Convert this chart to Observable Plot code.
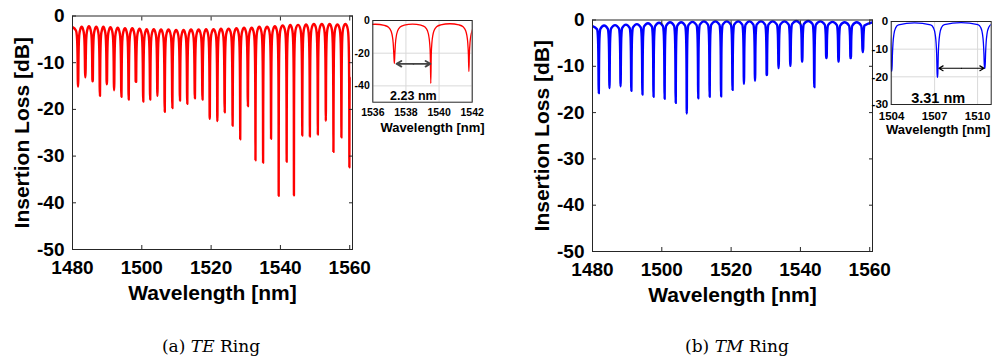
<!DOCTYPE html>
<html><head><meta charset="utf-8">
<script src="https://cdn.jsdelivr.net/npm/d3@7"></script>
<script src="https://cdn.jsdelivr.net/npm/@observablehq/plot@0.6"></script>
<style>
body{margin:0;background:#fff;}
#root{position:relative;width:998px;height:361px;overflow:hidden;background:#fff;}
.p{position:absolute;top:0;}
.p svg{overflow:visible;}
.cap{position:absolute;top:336px;font-family:"DejaVu Serif","Liberation Serif",serif;font-size:17px;color:#000;transform:translateX(-50%);white-space:nowrap;}
</style></head><body><div id="root">
<div class="p" id="teMain" style="left:0px"></div>
<div class="p" id="tmMain" style="left:520px"></div>
<div class="p" id="teInset" style="left:340px"></div>
<div class="p" id="tmInset" style="left:858px"></div>
<div class="cap" style="left:211px">(a) <i>TE</i> Ring</div>
<div class="cap" style="left:737px">(b) <i>TM</i> Ring</div>
</div>
<script>
// ---------- DATA ----------
// TE ring: resonance wavelengths [nm] and dip depths [dB]
const teDipWl = [1481.6, 1483.7, 1485.8, 1487.9, 1489.9, 1492.0, 1494.1, 1496.2, 1498.3, 1500.4, 1502.4, 1504.5, 1506.6, 1508.8, 1511.0, 1513.1, 1515.3, 1517.5, 1519.6, 1521.8, 1523.9, 1526.2, 1528.4, 1530.6, 1532.8, 1535.0, 1537.3, 1539.5, 1541.8, 1543.9, 1546.3, 1548.5, 1550.8, 1553.1, 1555.3, 1557.6, 1559.9];
const teDipDb = [-15.1, -13.1, -14.0, -17.1, -14.6, -15.9, -17.3, -17.9, -14.1, -18.3, -17.9, -17.1, -20.5, -19.7, -18.1, -18.8, -17.6, -17.9, -22.0, -22.5, -20.6, -23.5, -26.4, -19.3, -30.9, -31.4, -26.3, -38.5, -31.2, -38.4, -25.6, -25.8, -25.4, -22.5, -29.1, -26.0, -32.4];
// level of the off-resonance arch before each dip (and after the last one) [dB]
const teArchDb = [-2.4, -2.3, -2.2, -2.3, -2.3, -2.4, -2.5, -2.6, -2.6, -2.7, -2.8, -2.8, -2.9, -2.9, -3.0, -3.0, -2.9, -2.9, -2.8, -2.8, -2.7, -2.7, -2.6, -2.5, -2.5, -2.3, -2.3, -2.2, -2.0, -1.9, -1.9, -1.8, -1.7, -1.7, -1.7, -1.8, -1.7, -1.8];
const teSweep = [1480, 1560.0];

// TM ring
const tmDipWl = [1481.8, 1484.9, 1488.1, 1491.2, 1494.4, 1497.6, 1500.8, 1504.0, 1507.2, 1510.5, 1513.8, 1517.1, 1520.4, 1523.7, 1526.9, 1530.3, 1533.7, 1537.1, 1540.5, 1544.0, 1547.5, 1551.0, 1554.5, 1558.0];
const tmDipDb = [-15.8, -14.7, -14.3, -15.3, -16.1, -16.6, -17.0, -17.9, -20.2, -16.9, -16.6, -16.5, -15.1, -13.8, -13.1, -11.9, -10.4, -9.9, -9.0, -14.5, -8.2, -9.0, -8.2, -6.9];
const tmArchDb = [-1.3, -1.2, -1.1, -1.0, -0.9, -0.7, -0.6, -0.5, -0.5, -0.4, -0.3, -0.3, -0.3, -0.3, -0.3, -0.3, -0.3, -0.3, -0.2, -0.2, -0.3, -0.4, -0.5, -0.5, -0.5];
const tmSweep = [1480, 1560.8];

// Tick values
const mainXTicks = [1480, 1500, 1520, 1540, 1560];
const mainYTicks = [0, -10, -20, -30, -40, -50];
const teInsetXTicks = [1536, 1538, 1540, 1542];
const teInsetYTicks = [0, -20, -40];
const tmInsetXTicks = [1504, 1507, 1510];
const tmInsetYTicks = [0, -10, -20, -30];

// FSR annotations in insets
const teFsrArrowWl = [1537.43, 1539.48];
const teFsrArrowDb = -26.5;
const teFsrText = "2.23 nm";
const teFsrTextWl = 1538.45;
const tmFsrArrowWl = [1507.3, 1510.45];
const tmFsrArrowDb = -16.9;
const tmFsrText = "3.31 nm";
const tmFsrTextWl = 1507.25;

const xLabel = "Wavelength [nm]";
const yLabel = "Insertion Loss [dB]";

// ---------- trace construction (dip profile template, relative to linewidth) ----------
const profileOffset = [0.12, 0.28, 0.48, 0.8, 1.4, 2.4];
const profileLoss = [18.5, 11.4, 7.3, 4.1, 1.8, 0.7];
function buildTrace(wl, db, arch, sweep, lw) {
  let pts = [{x: sweep[0], y: arch[0]}];
  wl.forEach((w, i) => {
    const left = arch[i], right = arch[i + 1];
    if (i > 0) pts.push({x: (wl[i - 1] + w) / 2, y: left});
    for (let k = profileOffset.length - 1; k >= 0; k--)
      pts.push({x: w - profileOffset[k] * lw, y: Math.max(db[i], left - profileLoss[k])});
    pts.push({x: w, y: db[i]});
    for (let k = 0; k < profileOffset.length; k++)
      pts.push({x: w + profileOffset[k] * lw, y: Math.max(db[i], right - profileLoss[k])});
  });
  pts = pts.filter(p => p.x >= sweep[0] && p.x <= sweep[1]);
  if (sweep[1] - pts[pts.length - 1].x > 0.3) pts.push({x: sweep[1], y: arch[arch.length - 1]});
  return pts;
}
const teTrace = buildTrace(teDipWl, teDipDb, teArchDb, teSweep, 0.25);
const tmTrace = buildTrace(tmDipWl, tmDipDb, tmArchDb, tmSweep, 0.2);

const FONT = '"Liberation Sans", Arial, Helvetica, sans-serif';
const fmt = d => String(d);

function mainPlot(trace, color, top, bottom) {
  const height = 312;
  return Plot.plot({
    width: 360, height,
    marginLeft: 72, marginRight: 8, marginTop: top, marginBottom: height - bottom,
    style: {fontFamily: FONT, fontWeight: "bold", fontSize: "19px", color: "#000", background: "transparent", overflow: "visible"},
    x: {domain: [1480, 1560.8], label: null},
    y: {domain: [-50, 0], label: null},
    marks: [
      Plot.line(trace, {x: "x", y: "y", stroke: color, strokeWidth: 2.4, curve: "monotone-x", clip: true}),
      Plot.frame({stroke: "#262626", strokeWidth: 1}),
      Plot.axisX({ticks: mainXTicks, anchor: "bottom", tickSize: 0, tickPadding: 11, tickFormat: fmt, label: null, fontSize: 19}),
      Plot.axisX({ticks: mainXTicks, anchor: "bottom", tickSize: -4, fill: "none", stroke: "#262626", label: null}),
      Plot.axisX({ticks: mainXTicks, anchor: "top", tickSize: -4, fill: "none", stroke: "#262626", label: null}),
      Plot.axisY({ticks: mainYTicks, anchor: "left", tickSize: 0, tickPadding: 8, tickFormat: fmt, label: null, fontSize: 19}),
      Plot.axisY({ticks: mainYTicks, anchor: "left", tickSize: -4, fill: "none", stroke: "#262626", label: null}),
      Plot.axisY({ticks: mainYTicks, anchor: "right", tickSize: -4, fill: "none", stroke: "#262626", label: null}),
      Plot.text([xLabel], {text: d => d, frameAnchor: "bottom", dy: 44, fontSize: 21, fontWeight: "bold", lineAnchor: "middle"}),
      Plot.text([yLabel], {text: d => d, frameAnchor: "left", dx: -50, rotate: -90, textAnchor: "middle", fontSize: 21, fontWeight: "bold", lineAnchor: "middle"})
    ]
  });
}

function insetPlot(o) {
  const arrows = [
    {x1: (o.arrowWl[0] + o.arrowWl[1]) / 2, x2: o.arrowWl[0], y: o.arrowDb},
    {x1: (o.arrowWl[0] + o.arrowWl[1]) / 2, x2: o.arrowWl[1], y: o.arrowDb}
  ];
  return Plot.plot({
    width: o.width, height: 140,
    marginLeft: o.ml, marginRight: o.mr, marginTop: o.mt, marginBottom: 140 - o.bottom,
    style: {fontFamily: FONT, fontWeight: "bold", fontSize: o.tickFont + "px", color: "#000", background: "transparent", overflow: "visible"},
    x: {domain: o.xDomain, label: null},
    y: {domain: o.yDomain, label: null},
    marks: [
      Plot.frame({fill: "#fff"}),
      Plot.gridX({ticks: o.xTicks, stroke: "#d9d9d9", strokeOpacity: 1}),
      Plot.gridY({ticks: o.yTicks, stroke: "#d9d9d9", strokeOpacity: 1}),
      Plot.line(o.trace, {x: "x", y: "y", stroke: o.color, strokeWidth: 1.3, curve: "monotone-x", clip: true}),
      Plot.frame({stroke: "#262626", strokeWidth: 1}),
      Plot.axisX({ticks: o.xTicks, anchor: "bottom", tickSize: 0, tickPadding: o.xPad, tickFormat: fmt, label: null, fontSize: o.tickFont}),
      Plot.axisY({ticks: o.yTicks, anchor: "left", tickSize: 0, tickPadding: 3, tickFormat: fmt, label: null, fontSize: o.tickFont}),
      Plot.text([xLabel], {text: d => d, frameAnchor: "bottom", dx: o.labelDx, dy: o.labelDy, fontSize: 13, fontWeight: "bold", lineAnchor: "middle"}),
      Plot.arrow(arrows, {x1: "x1", x2: "x2", y1: "y", y2: "y", stroke: o.arrowColor, strokeWidth: o.arrowWidth, headLength: 6}),
      Plot.text([o.note], {text: d => d, x: () => o.noteWl, frameAnchor: "bottom", dy: -2, lineAnchor: "bottom", fontSize: o.noteFont, fontWeight: "bold"})
    ]
  });
}

document.getElementById("teMain").append(mainPlot(teTrace, "#ff0000", 15.5, 249));
document.getElementById("tmMain").append(mainPlot(tmTrace, "#0000ff", 19.5, 251));
document.getElementById("teInset").append(insetPlot({
  width: 155, ml: 32.3, mr: 23.3, mt: 20, bottom: 101.7,
  xDomain: [1536, 1542], yDomain: [-50, 0], xTicks: teInsetXTicks, yTicks: teInsetYTicks,
  trace: teTrace, color: "#ff0000", tickFont: 10.5, xPad: 6, labelDx: 10, labelDy: 26,
  arrowWl: teFsrArrowWl, arrowDb: teFsrArrowDb, arrowColor: "#444", arrowWidth: 1.8,
  note: teFsrText, noteWl: teFsrTextWl, noteFont: 12.5
}));
document.getElementById("tmInset").append(insetPlot({
  width: 140, ml: 32.7, mr: 7.3, mt: 21, bottom: 104,
  xDomain: [1503.97, 1510.95], yDomain: [-30, 0], xTicks: tmInsetXTicks, yTicks: tmInsetYTicks,
  trace: tmTrace, color: "#0000ff", tickFont: 11.5, xPad: 7, labelDx: -3, labelDy: 25,
  arrowWl: tmFsrArrowWl, arrowDb: tmFsrArrowDb, arrowColor: "#000", arrowWidth: 1.2,
  note: tmFsrText, noteWl: tmFsrTextWl, noteFont: 14.5
}));
</script>
</body></html>
